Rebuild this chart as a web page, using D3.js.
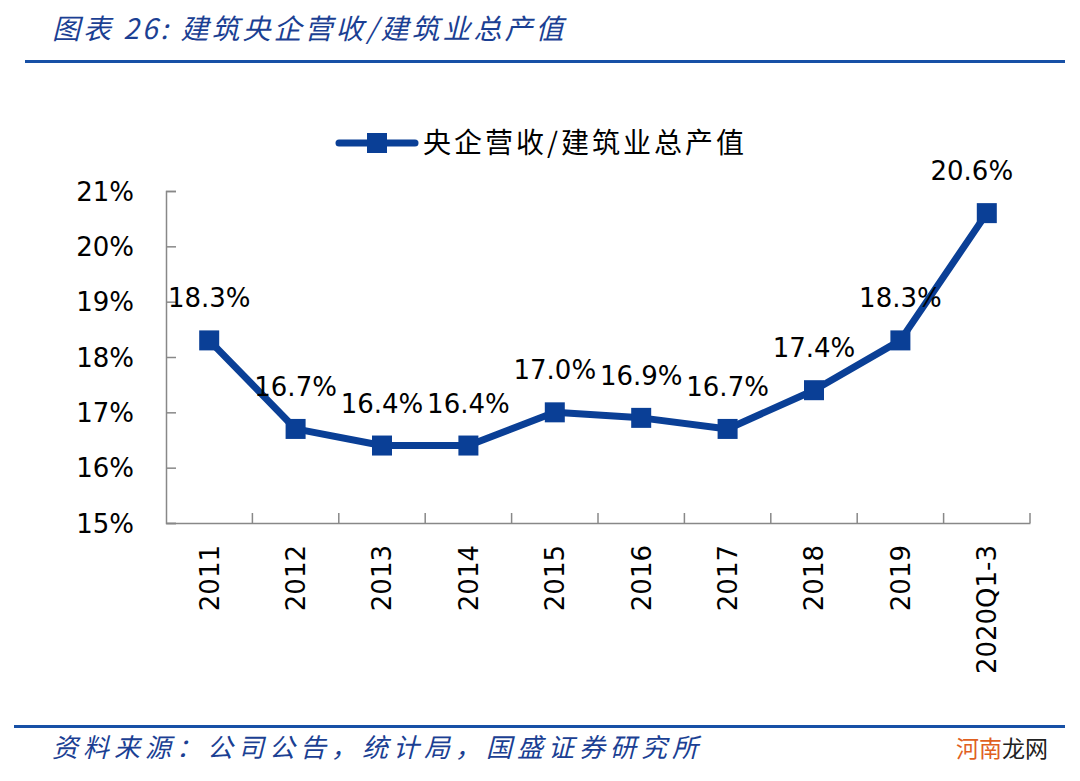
<!DOCTYPE html>
<html><head><meta charset="utf-8">
<script src="https://cdn.jsdelivr.net/npm/d3@7"></script>
<style>body{margin:0;background:#fff}</style>
</head><body>
<script>
const categories = ["2011","2012","2013","2014","2015","2016","2017","2018","2019","2020Q1-3"];
const values = [18.3,16.7,16.4,16.4,17.0,16.9,16.7,17.4,18.3,20.6];
const yTicks = [15,16,17,18,19,20,21];
const seriesName = "央企营收/建筑业总产值";
const titleText = "图表 26:  建筑央企营收/建筑业总产值";
const sourceText = "资料来源：公司公告，统计局，国盛证券研究所";

const W=1080,H=781;
const svg=d3.select("body").append("svg").attr("width",W).attr("height",H);
const blue="#0a3f96";
const num="'DejaVu Sans','Verdana',sans-serif";
const cjk="'Noto Sans CJK SC',sans-serif";

// title
svg.append("text").attr("x",52).attr("y",39).attr("font-family",cjk).attr("font-style","italic")
  .attr("font-size",28).attr("letter-spacing",3).attr("fill","#1b3f93").text(titleText);
svg.append("rect").attr("x",25).attr("y",60).attr("width",1040).attr("height",3).attr("fill","#1750a6");

// bottom
svg.append("rect").attr("x",14).attr("y",725).attr("width",1051).attr("height",3).attr("fill","#1750a6");
svg.append("text").attr("x",52).attr("y",757).attr("font-family",cjk).attr("font-style","italic")
  .attr("font-size",26).attr("letter-spacing",5).attr("fill","#1b3f93").text(sourceText);
const wm=svg.append("text").attr("x",956).attr("y",757).attr("font-family",cjk).attr("font-size",23);
wm.append("tspan").attr("fill","#e0601f").text("河南");
wm.append("tspan").attr("fill","#222").text("龙网");

const x=d3.scaleBand().domain(categories).range([166,1030]);
const y=d3.scaleLinear().domain([15,21]).range([523,191]);

// y axis
const ya=svg.append("g").attr("transform","translate(166,0)")
  .call(d3.axisLeft(y).tickValues(yTicks).tickSize(-10).tickPadding(32).tickFormat(d=>d+"%"));
ya.select(".domain").attr("stroke","#888").attr("stroke-width",1.5);
ya.selectAll(".tick line").attr("stroke","#888").attr("stroke-width",1.5);
ya.selectAll(".tick text").attr("font-family",num).attr("font-size",26).attr("fill","#000").attr("dy","0.35em");

// x axis
const xa=svg.append("g").attr("transform","translate(0,523)")
  .call(d3.axisBottom(x).tickSize(0).tickPadding(0));
xa.select(".domain").attr("stroke","#888").attr("stroke-width",1.5);
xa.selectAll(".tick text").attr("font-family",num).attr("font-size",26).attr("fill","#000")
  .attr("text-anchor","end").attr("transform","rotate(-90)").attr("x",-22).attr("y",0).attr("dy","0.36em");
// boundary ticks
const bounds=categories.map(c=>x(c)).concat([x.range()[1]]);
svg.append("g").selectAll("line").data(bounds.slice(1)).join("line")
  .attr("x1",d=>d).attr("x2",d=>d).attr("y1",523).attr("y2",513).attr("stroke","#888").attr("stroke-width",1.5);

// line
const cx=c=>x(c)+x.bandwidth()/2;
const line=d3.line().x((d,i)=>cx(categories[i])).y(d=>y(d));
svg.append("path").datum(values).attr("d",line).attr("fill","none").attr("stroke",blue)
  .attr("stroke-width",7).attr("stroke-linejoin","round");
svg.append("g").selectAll("rect").data(values).join("rect")
  .attr("x",(d,i)=>cx(categories[i])-10).attr("y",d=>y(d)-10).attr("width",20).attr("height",20).attr("fill",blue);
svg.append("g").selectAll("text").data(values).join("text")
  .attr("x",(d,i)=>cx(categories[i])-(i===categories.length-1?15:0)).attr("y",d=>y(d)-33)
  .attr("text-anchor","middle").attr("font-family",num).attr("font-size",26).attr("fill","#000")
  .text(d=>d.toFixed(1)+"%");

// legend
const lg=svg.append("g");
lg.append("line").attr("x1",339).attr("x2",415).attr("y1",143).attr("y2",143).attr("stroke",blue)
  .attr("stroke-width",7).attr("stroke-linecap","round");
lg.append("rect").attr("x",367).attr("y",133).attr("width",20).attr("height",20).attr("fill",blue);
lg.append("text").attr("x",423).attr("y",153).attr("font-family",cjk).attr("font-size",28)
  .attr("letter-spacing",3).attr("fill","#000").text(seriesName);
</script>
</body></html>
